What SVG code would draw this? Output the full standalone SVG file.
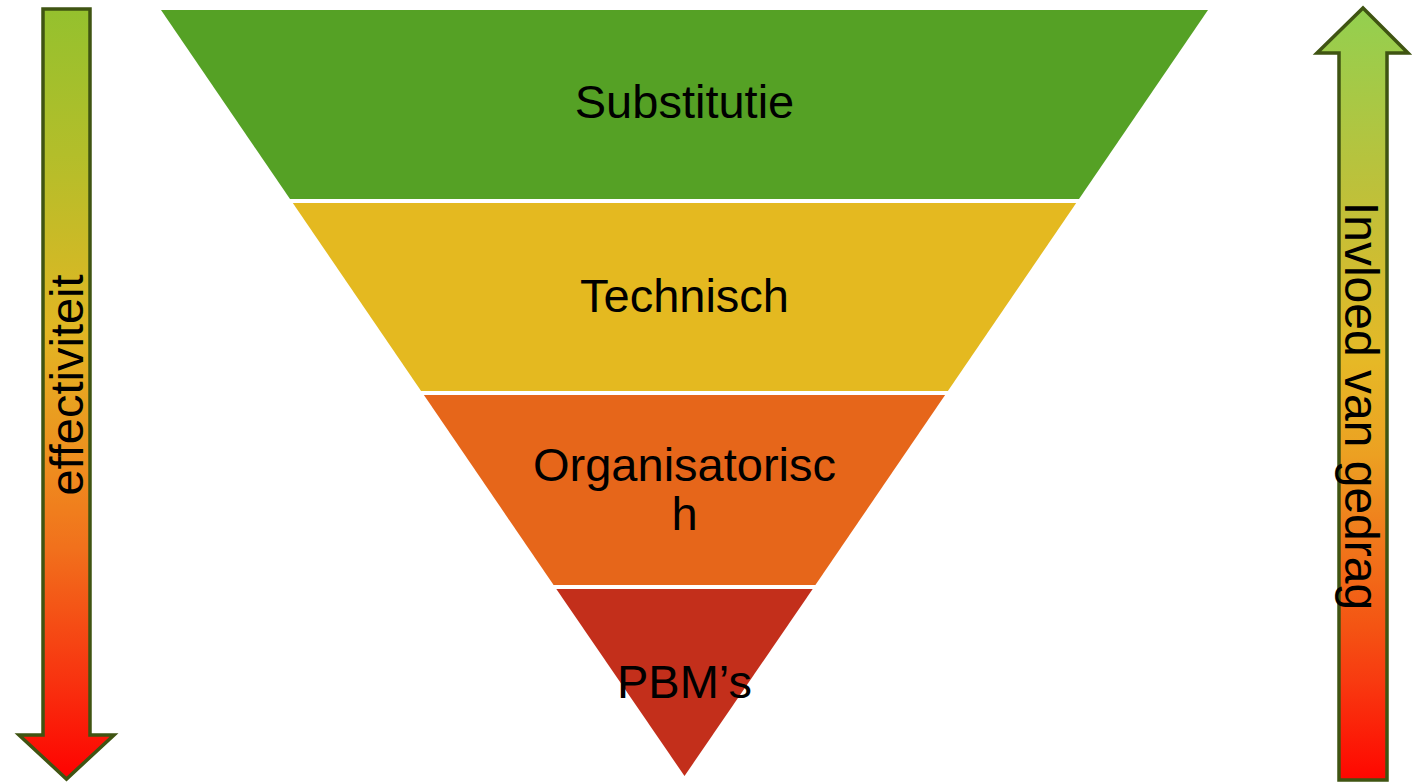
<svg xmlns="http://www.w3.org/2000/svg" width="1413" height="783" viewBox="0 0 1413 783">
<style>
.lbl{font-family:"Liberation Sans",Arial,sans-serif;font-size:47px;fill:#000;text-anchor:middle}
.arr{stroke:#3f5412;stroke-width:3.5;stroke-linejoin:miter}
</style>
<defs>
<linearGradient id="gL" x1="0" y1="7" x2="0" y2="782" gradientUnits="userSpaceOnUse">
<stop offset="0" stop-color="#94c12e"/>
<stop offset="0.19" stop-color="#b3be2a"/>
<stop offset="0.42" stop-color="#e2b623"/>
<stop offset="0.6" stop-color="#ef8b1e"/>
<stop offset="0.7" stop-color="#f1701c"/>
<stop offset="0.87" stop-color="#f8320f"/>
<stop offset="1" stop-color="#ff0000"/>
</linearGradient>
<linearGradient id="gR" x1="0" y1="5" x2="0" y2="782" gradientUnits="userSpaceOnUse">
<stop offset="0" stop-color="#92d050"/>
<stop offset="0.23" stop-color="#bcc13b"/>
<stop offset="0.46" stop-color="#e6b826"/>
<stop offset="0.58" stop-color="#eca022"/>
<stop offset="0.68" stop-color="#f07b1c"/>
<stop offset="0.8" stop-color="#f45413"/>
<stop offset="0.87" stop-color="#f83a10"/>
<stop offset="1" stop-color="#ff0500"/>
</linearGradient>
</defs>
<g id="arrow-effectiviteit">
<polygon class="arr" fill="url(#gL)" points="43,9 90,9 90,735 114,735 66.5,779 19,735 43,735"/>
<text class="lbl" transform="translate(83,385) rotate(-90)">effectiviteit</text>
</g>
<g id="arrow-invloed">
<polygon class="arr" fill="url(#gR)" points="1363,8 1408,53 1387,53 1387,780 1339,780 1339,53 1317,53"/>
<text class="lbl" style="font-size:48px" transform="translate(1345,406) rotate(90)">Invloed van gedrag</text>
</g>
<g id="substitutie">
<polygon fill="#55a125" points="161,10 1208,10 1079,199 290,199"/>
<text class="lbl" x="684.5" y="118">Substitutie</text>
</g>
<g id="technisch">
<polygon fill="#e4b920" points="292.8,203 1076.2,203 947.9,391 421.1,391"/>
<text class="lbl" x="684.5" y="312">Technisch</text>
</g>
<g id="organisatorisch">
<polygon fill="#e6661a" points="423.9,395 945.1,395 815.4,585 553.6,585"/>
<text class="lbl" x="684.5" y="481">Organisatorisc</text>
<text class="lbl" x="684.5" y="530">h</text>
</g>
<g id="pbms">
<polygon fill="#c32f1b" points="556.3,589 812.7,589 684.5,776"/>
<text class="lbl" x="684.5" y="698">PBM’s</text>
</g>
<g id="connectors"/>
</svg>
